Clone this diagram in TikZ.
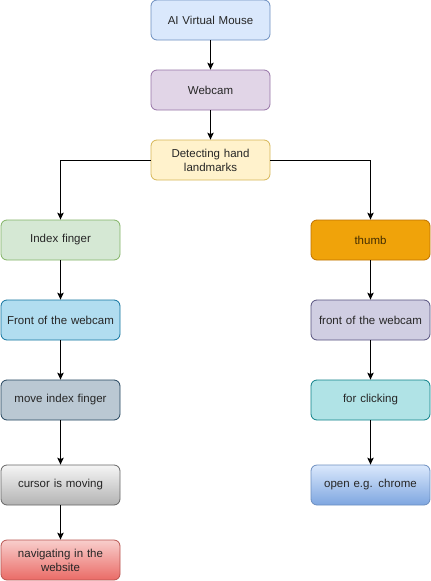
\documentclass[tikz,border=0pt]{standalone}
\usepackage{fontspec}
\setmainfont{Liberation Sans}
\usetikzlibrary{arrows.meta,positioning}
\definecolor{bluef}{HTML}{DAE8FC}\definecolor{blued}{HTML}{6C8EBF}
\definecolor{purf}{HTML}{E1D5E7}\definecolor{purd}{HTML}{9673A6}
\definecolor{yelf}{HTML}{FFF2CC}\definecolor{yeld}{HTML}{D6B656}
\definecolor{grnf}{HTML}{D5E8D4}\definecolor{grnd}{HTML}{82B366}
\definecolor{cyaf}{HTML}{B1DDF0}\definecolor{cyad}{HTML}{10739E}
\definecolor{slaf}{HTML}{BAC8D3}\definecolor{slad}{HTML}{23445D}
\definecolor{gryt}{HTML}{F5F5F5}\definecolor{gryb}{HTML}{B3B3B3}\definecolor{gryd}{HTML}{666666}
\definecolor{redt}{HTML}{F8CECC}\definecolor{redb}{HTML}{EA6B66}\definecolor{redd}{HTML}{B85450}
\definecolor{orgf}{HTML}{F0A30A}\definecolor{orgd}{HTML}{BD7000}\definecolor{orgt}{HTML}{432D02}
\definecolor{lavf}{HTML}{D0CEE2}\definecolor{lavd}{HTML}{56517E}
\definecolor{tealf}{HTML}{B0E3E6}\definecolor{teald}{HTML}{0E8088}
\definecolor{blub}{HTML}{7EA6E0}
\begin{document}
\begin{tikzpicture}[x=1pt,y=-1pt,
  box/.style={rounded corners=6pt,minimum width=119pt,minimum height=40pt,inner sep=2pt,
    align=center,text width=112pt,font=\fontsize{11.5pt}{14pt}\selectfont,line width=0.8pt,text=black!85},
  conn/.style={line width=1pt,-{Stealth[length=7pt,width=6.5pt,inset=1.5pt]}}]
\useasboundingbox (0,0) rectangle (431,581);
\node[box,fill=bluef,draw=blued] (ai) at (210.5,20) {AI Virtual Mouse};
\node[box,fill=purf,draw=purd] (wc) at (210.5,90) {Webcam};
\node[box,fill=yelf,draw=yeld] (det) at (210.5,160) {Detecting hand\\landmarks};
\node[box,fill=grnf,draw=grnd] (idx) at (60.5,240) {Index finger};
\node[box,fill=cyaf,draw=cyad] (fw) at (60.5,320) {Front of the webcam};
\node[box,fill=slaf,draw=slad] (mv) at (60.5,400) {move index finger};
\node[box,top color=gryt,bottom color=gryb,draw=gryd] (cur) at (60.5,485) {cursor is moving};
\node[box,top color=redt,bottom color=redb,draw=redd] (nav) at (60.5,560) {navigating in the\\website};
\node[box,fill=orgf,draw=orgd,text=orgt] (th) at (370.5,240) {thumb};
\node[box,fill=lavf,draw=lavd] (fw2) at (370.5,320) {front of the webcam};
\node[box,fill=tealf,draw=teald] (clk) at (370.5,400) {for clicking};
\node[box,top color=bluef,bottom color=blub,draw=blued] (chr) at (370.5,485) {open e.g. chrome};
\draw[conn] (ai) -- (wc);
\draw[conn] (wc) -- (det);
\draw[conn] (det.west) -| (idx.north);
\draw[conn] (det.east) -| (th.north);
\draw[conn] (idx) -- (fw);
\draw[conn] (fw) -- (mv);
\draw[conn] (mv) -- (cur);
\draw[conn] (cur) -- (nav);
\draw[conn] (th) -- (fw2);
\draw[conn] (fw2) -- (clk);
\draw[conn] (clk) -- (chr);
\end{tikzpicture}
\end{document}
